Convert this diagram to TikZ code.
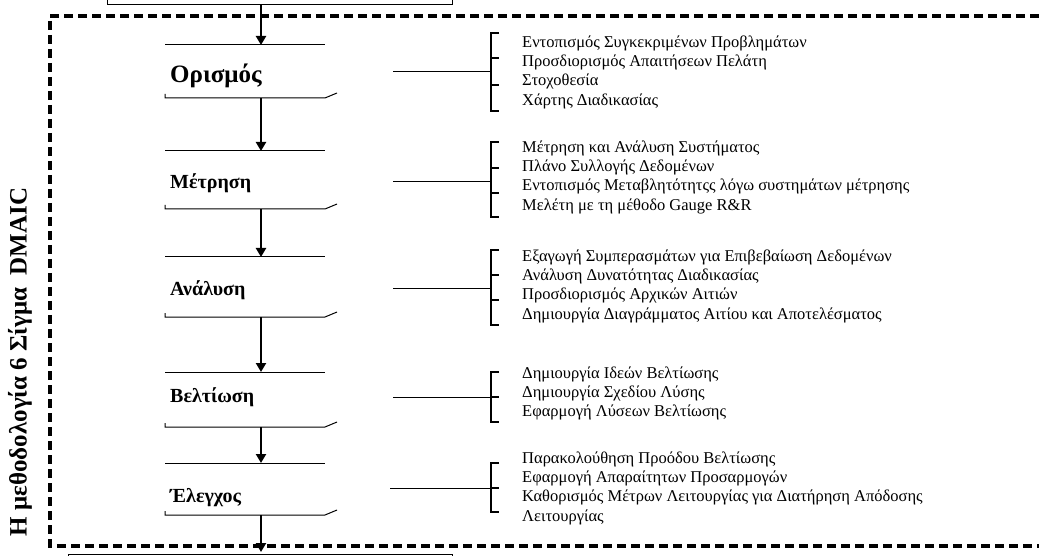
\documentclass[tikz,border=0pt]{standalone}
\usepackage{fontspec}
\setmainfont{Liberation Serif}
\usetikzlibrary{arrows.meta}

\tikzset{
  frameline/.style={line width=3.3pt, dash pattern=on 9pt off 5pt},
  flow/.style={line width=2.4pt, -{Triangle[width=10pt,length=9pt]}},
  rule/.style={line width=1pt},
  brack/.style={line width=1.3pt},
  stagelabel/.style={font=\fontsize{20}{24}\selectfont\bfseries, inner sep=0pt, anchor=base west},
  itemlist/.style={font=\fontsize{16.5}{19.3}\selectfont, align=left, inner sep=0pt, anchor=north west},
  sidetitle/.style={font=\fontsize{25}{29}\selectfont\bfseries, rotate=90, inner sep=0pt},
}

\begin{document}
\begin{tikzpicture}[x=1pt,y=-1pt]
\useasboundingbox (0,0) rectangle (1039,556);

% boxes above and below the frame
\draw[rule] (107,0) -- (107,5) -- (452,5) -- (452,0);
\draw[rule] (68,556) -- (68,554) -- (452,554) -- (452,556);
\coordinate (in) at (261,5);
\coordinate (out) at (261,552);

% dashed frame
\draw[frameline] (1039,16) -- (50,16) -- (50,546) -- (1039,546);

% side title
\node[sidetitle] (title) at (20,362) {Η μεθοδολογία 6 Σίγμα\ \ DMAIC};

% stage frames
\foreach \n/\t/\b in {1/45/98, 2/151/209, 3/257/317, 4/372/427, 5/463/515} {
  \coordinate (s\n-top) at (261,\t);
  \coordinate (s\n-bot) at (261,\b);
  \draw[rule] (165,\t) -- (325,\t);
  \draw[rule] (165,\b-4) -- (165,\b) -- (325,\b) -- (337,\b-5);
}

% stage names
\node[stagelabel, font=\fontsize{25}{29}\selectfont\bfseries] (s1) at (170,83) {Ορισμός};
\node[stagelabel] (s2) at (170,189) {Μέτρηση};
\node[stagelabel] (s3) at (170,295) {Ανάλυση};
\node[stagelabel] (s4) at (170,402) {Βελτίωση};
\node[stagelabel] (s5) at (170,502) {Έλεγχος};

% flow arrows
\draw[flow] (in) -- (s1-top);
\draw[flow] (s1-bot) -- (s2-top);
\draw[flow] (s2-bot) -- (s3-top);
\draw[flow] (s3-bot) -- (s4-top);
\draw[flow] (s4-bot) -- (s5-top);
\draw[flow] (s5-bot) -- (out);

% connectors and brackets
\coordinate (c1) at (393,72);  \coordinate (k1) at (491,72);
\coordinate (c2) at (393,182); \coordinate (k2) at (491,182);
\coordinate (c3) at (393,288); \coordinate (k3) at (491,288);
\coordinate (c4) at (393,397); \coordinate (k4) at (491,397);
\coordinate (c5) at (390,488); \coordinate (k5) at (491,488);
\foreach \n in {1,...,5} { \draw[rule] (c\n) -- (k\n); }

\draw[brack] (499,33) -- (491,33) -- (491,111) -- (499,111);
\draw[brack] (491,58) -- (499,58) (491,85) -- (499,85);

\draw[brack] (499,142) -- (491,142) -- (491,217) -- (499,217);
\draw[brack] (491,168) -- (499,168) (491,193) -- (499,193);

\draw[brack] (499,250) -- (491,250) -- (491,325) -- (499,325);
\draw[brack] (491,275) -- (499,275) (491,300) -- (499,300);

\draw[brack] (499,372) -- (491,372) -- (491,422) -- (499,422);
\draw[brack] (491,397) -- (499,397);

\draw[brack] (499,463) -- (491,463) -- (491,512) -- (499,512);
\draw[brack] (491,488) -- (499,488);

% activity lists
\node[itemlist] (l1) at (522,33.5) {\strut Εντοπισμός Συγκεκριμένων Προβλημάτων\\
  Προσδιορισμός Απαιτήσεων Πελάτη\\ Στοχοθεσία\\ Χάρτης Διαδικασίας};
\node[itemlist] (l2) at (522,138.5) {\strut Μέτρηση και Ανάλυση Συστήματος\\
  Πλάνο Συλλογής Δεδομένων\\ Εντοπισμός Μεταβλητότητςς λόγω συστημάτων μέτρησης\\
  Μελέτη με τη μέθοδο Gauge R\&R};
\node[itemlist] (l3) at (522,247.5) {\strut Εξαγωγή Συμπερασμάτων για Επιβεβαίωση Δεδομένων\\
  Ανάλυση Δυνατότητας Διαδικασίας\\ Προσδιορισμός Αρχικών Αιτιών\\
  Δημιουργία Διαγράμματος Αιτίου και Αποτελέσματος};
\node[itemlist] (l4) at (522,364.5) {\strut Δημιουργία Ιδεών Βελτίωσης\\
  Δημιουργία Σχεδίου Λύσης\\ Εφαρμογή Λύσεων Βελτίωσης};
\node[itemlist] (l5) at (522,449.5) {\strut Παρακολούθηση Προόδου Βελτίωσης\\
  Εφαρμογή Απαραίτητων Προσαρμογών\\
  Καθορισμός Μέτρων Λειτουργίας για Διατήρηση Απόδοσης\\ Λειτουργίας};
\end{tikzpicture}
\end{document}
